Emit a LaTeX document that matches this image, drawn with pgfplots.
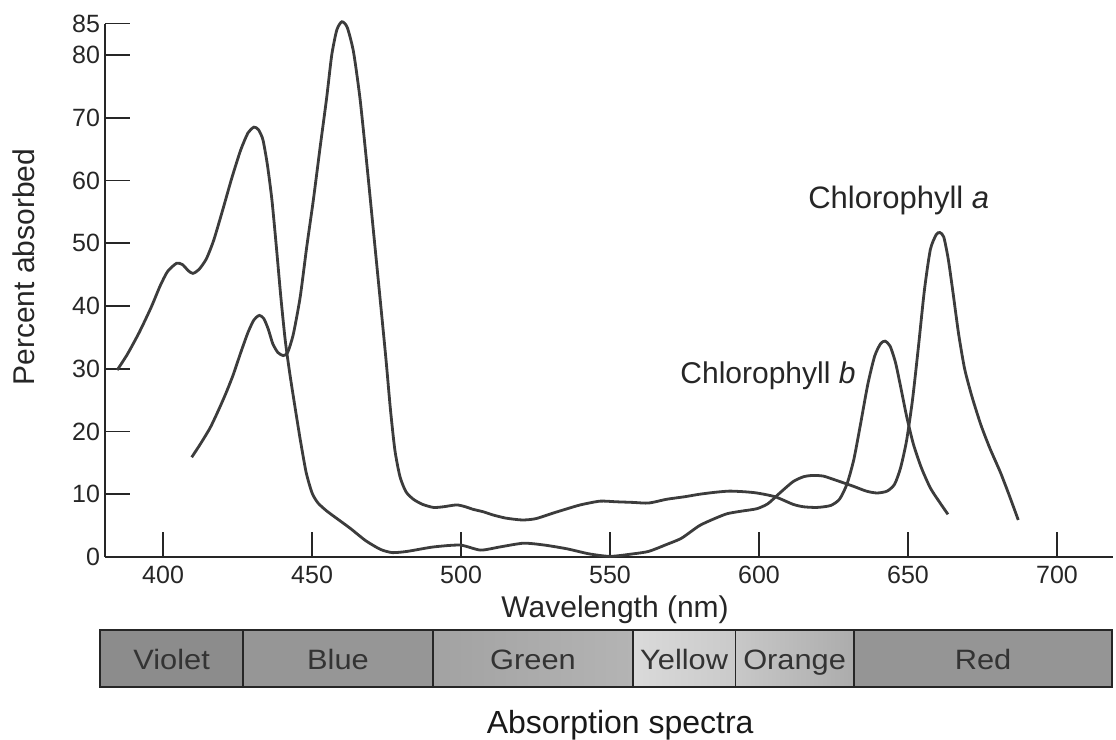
\documentclass[border=0pt]{standalone}
\usepackage{pgfplots}
\pgfplotsset{compat=1.18}
\usepackage{pgfplotstable}
\usepackage{fontspec}
\setmainfont{Liberation Sans}

\definecolor{cViolet}{HTML}{8C8C8C}
\definecolor{cBlue}{HTML}{969696}
\definecolor{cGreenL}{HTML}{A2A2A2}
\definecolor{cGreenR}{HTML}{B4B4B4}
\definecolor{cYellowL}{HTML}{DADADA}
\definecolor{cYellowR}{HTML}{CACACA}
\definecolor{cOrangeL}{HTML}{C8C8C8}
\definecolor{cOrangeR}{HTML}{ACACAC}
\definecolor{cRed}{HTML}{959595}
\definecolor{curve}{HTML}{3C3C3C}

\pgfplotstableread{
x y
384.6 29.8
388 32.3
392 35.8
396 39.8
399 43.2
401.5 45.5
404.5 46.8
406.5 46.6
408.5 45.6
410 45.2
412 45.8
414.5 47.5
417 50.5
420 55.3
423 60.3
426 64.8
428.5 67.6
430.5 68.5
432 68.1
433.5 66.5
435 62.5
436.5 57
438 49.5
439.5 41.5
441 34.5
442.5 29.3
444 24.7
446 18.8
448 13.5
450 10.2
452 8.6
455 7.3
459 5.9
463 4.5
468 2.6
473 1.2
477 0.7
482 0.9
490.7 1.6
499.7 1.9
506.5 1.1
513 1.6
521 2.2
528 1.9
535.6 1.3
543 0.5
550 0.1
557.7 0.5
563 0.9
569 2.0
574 3.0
580 5.0
585 6.1
589.3 6.9
594 7.3
599.3 7.7
603 8.5
606.5 10.0
611.4 12
615 12.8
618.1 13
621.5 12.9
624.8 12.4
631.5 11.3
636 10.5
639.6 10.2
643 10.5
645.5 11.6
647.5 14.2
649.5 18.5
651.5 25
653.5 33.5
655.5 42.5
657.5 49
659.5 51.4
660.7 51.7
662 51
663.5 47.5
665 42.5
667 35.5
669 30
671.5 25.5
674.5 21
677.5 17.3
681 13.5
684 9.8
687 5.9
}\chla

\pgfplotstableread{
x y
409.6 15.9
412.5 18
415.8 20.6
418.5 23.3
421 26
423.5 29
426 32.5
428.5 35.8
430.5 37.8
432.3 38.5
433.8 38
435.3 36.3
436.8 34
438.5 32.6
440.3 32.1
441.8 32.6
443.7 35.5
446 41.4
448.2 49.4
450.4 56.8
452.7 65.3
454.9 73.2
456.6 80
458.3 84
460 85.3
461.8 84.4
463.9 80.5
466.1 73
468.4 62.5
470.6 51.9
472.8 41.3
474.8 31.5
476.3 23.5
477.8 17
479.5 12.8
481.5 10.4
484 9.2
487 8.4
490.7 7.9
494 8.0
498.5 8.3
501.5 8.0
504 7.6
507.5 7.2
510.7 6.7
515 6.2
520.5 5.9
525 6.1
530.9 7.0
535 7.6
540 8.3
546.6 8.9
552 8.8
557.7 8.7
563 8.6
569 9.2
575 9.6
580 10.0
585 10.3
590 10.5
595 10.4
599.3 10.2
605.4 9.6
611.4 8.4
615 8.0
619.5 7.9
624 8.2
627 9.2
629.5 11.6
631.8 15.5
634 21
636.5 27.5
638.8 32
640.8 34
642.3 34.4
644 33.6
645.8 31
647.5 27.2
649.5 22.5
651.8 18
654.5 14.2
657.5 11
660.5 8.8
663.4 6.8
}\chlb

\begin{document}
\begin{tikzpicture}
\useasboundingbox (-52.5pt,-91.5pt) rectangle (505.5pt,278.5pt);
\begin{axis}[
  at={(0pt,0pt)}, anchor=south west,
  scale only axis, width=504pt, height=266.7pt,
  xmin=380.5, xmax=718.8, ymin=0, ymax=85,
  axis lines*=left,
  axis line style={line width=0.9pt, black!85},
  tick align=inside,
  major tick length=12.5pt,
  tick style={line width=0.8pt, black!85},
  xtick={400,450,500,550,600,650,700},
  ytick={0,10,20,30,40,50,60,70,80,85},
  /pgf/number format/assume math mode=true,
  ticklabel style={font=\fontsize{12.5}{14}\selectfont, text=black!85},
  yticklabel style={xshift=1pt},
  xticklabel style={yshift=-1pt},
  clip=false,
]
\addplot[curve, line width=1.4pt, smooth, tension=0.4] table[x=x,y=y] {\chla};
\addplot[curve, line width=1.4pt, smooth, tension=0.4] table[x=x,y=y] {\chlb};

% labels
\node[anchor=base west, inner sep=0pt, font=\fontsize{15.5}{18}\selectfont, text=black!85] at (axis cs:616.4,55.6) {Chlorophyll \textit{a}};
\node[anchor=base west, inner sep=0pt, font=\fontsize{15}{18}\selectfont, text=black!85] at (axis cs:573.5,27.7) {Chlorophyll \textit{b}};
\node[rotate=90, font=\fontsize{15}{18}\selectfont, text=black!85] at (axis cs:353.4,46.2) {Percent absorbed};
\node[anchor=base, font=\fontsize{15}{18}\selectfont, text=black!85] at (axis cs:551.7,-9.7) {Wavelength (nm)};
\node[anchor=base, font=\fontsize{16}{19}\selectfont, text=black!90] at (axis cs:553.4,-28.05) {Absorption spectra};

% spectrum bar
\fill[cViolet] (axis cs:378.9,-11.63) rectangle (axis cs:426.8,-20.72);
\fill[cBlue] (axis cs:426.8,-11.63) rectangle (axis cs:490.6,-20.72);
\shade[left color=cGreenL, right color=cGreenR] (axis cs:490.6,-11.63) rectangle (axis cs:557.7,-20.72);
\shade[left color=cYellowL, right color=cYellowR] (axis cs:557.7,-11.63) rectangle (axis cs:592.0,-20.72);
\shade[left color=cOrangeL, right color=cOrangeR] (axis cs:592.0,-11.63) rectangle (axis cs:631.9,-20.72);
\fill[cRed] (axis cs:631.9,-11.63) rectangle (axis cs:718.5,-20.72);
\draw[line width=0.6pt, black!85] (axis cs:426.8,-11.63) -- (axis cs:426.8,-20.72);
\draw[line width=0.6pt, black!85] (axis cs:490.6,-11.63) -- (axis cs:490.6,-20.72);
\draw[line width=0.6pt, black!85] (axis cs:557.7,-11.63) -- (axis cs:557.7,-20.72);
\draw[line width=0.6pt, black!85] (axis cs:592.0,-11.63) -- (axis cs:592.0,-20.72);
\draw[line width=0.6pt, black!85] (axis cs:631.9,-11.63) -- (axis cs:631.9,-20.72);
\draw[line width=0.9pt, black!85] (axis cs:378.9,-11.63) rectangle (axis cs:718.5,-20.72);

\node[anchor=base, font=\fontsize{14}{16}\selectfont, text=black!80] at (axis cs:402.85,-17.85) {\scalebox{1.1}[1]{Violet}};
\node[anchor=base, font=\fontsize{14}{16}\selectfont, text=black!80] at (axis cs:458.7,-17.85) {\scalebox{1.1}[1]{Blue}};
\node[anchor=base, font=\fontsize{14}{16}\selectfont, text=black!80] at (axis cs:524.15,-17.85) {\scalebox{1.1}[1]{Green}};
\node[anchor=base, font=\fontsize{14}{16}\selectfont, text=black!80] at (axis cs:574.85,-17.85) {\scalebox{1.1}[1]{Yellow}};
\node[anchor=base, font=\fontsize{14}{16}\selectfont, text=black!80] at (axis cs:611.95,-17.85) {\scalebox{1.1}[1]{Orange}};
\node[anchor=base, font=\fontsize{14}{16}\selectfont, text=black!80] at (axis cs:675.2,-17.85) {\scalebox{1.1}[1]{Red}};
\end{axis}
\end{tikzpicture}
\end{document}
